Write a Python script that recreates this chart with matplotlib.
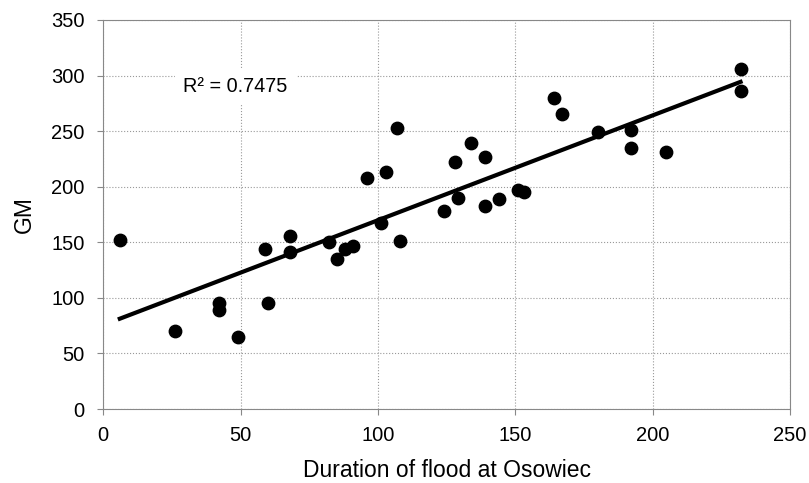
import numpy as np
import matplotlib.pyplot as plt

plt.rcParams['font.family'] = ['Liberation Sans', 'DejaVu Sans']

# duration of flood (days) and GM
duration = [6, 26, 42, 42, 49, 59, 60, 68, 68, 82, 85, 88, 91, 96, 101, 103,
            107, 108, 124, 128, 129, 134, 139, 139, 144, 151, 153, 164, 167,
            180, 192, 192, 205, 232, 232]
gm = [152, 70, 95, 89, 65, 144, 95, 156, 141, 150, 135, 144, 147, 208, 167,
      213, 253, 151, 178, 222, 190, 239, 227, 183, 189, 197, 195, 280, 265,
      249, 251, 235, 231, 306, 286]

x = np.array(duration)
y = np.array(gm)
a, b = np.polyfit(x, y, 1)
xl = np.array([x.min(), x.max()])

fig = plt.figure(figsize=(8.09, 4.83), dpi=100)
ax = fig.add_axes([0.1277, 0.1532, 0.8488, 0.8054])

ax.scatter(x, y, s=80, color='black', zorder=3)
ax.plot(xl, a * xl + b, color='black', lw=3, zorder=2)

ax.set_xlim(0, 250)
ax.set_ylim(0, 350)
ax.set_xticks(range(0, 251, 50))
ax.set_yticks(range(0, 351, 50))
ax.grid(True, color='#999999', linestyle=':', linewidth=0.8)
ax.set_axisbelow(True)
for sp in ax.spines.values():
    sp.set_color('#888888')
ax.tick_params(colors='black', labelsize=14.5, length=4.5, color='#888888')
ax.tick_params(axis='x', pad=8)
ax.tick_params(axis='y', pad=9)

ax.set_xlabel('Duration of flood at Osowiec', fontsize=16.5, labelpad=10)
ax.set_ylabel('GM', fontsize=16.5, labelpad=11)

ax.text(48, 290, 'R² = 0.7475', fontsize=14.3, ha='center', va='center',
        bbox=dict(facecolor='white', edgecolor='none', pad=6), zorder=2.5)

fig.savefig('out.png', dpi=100)
